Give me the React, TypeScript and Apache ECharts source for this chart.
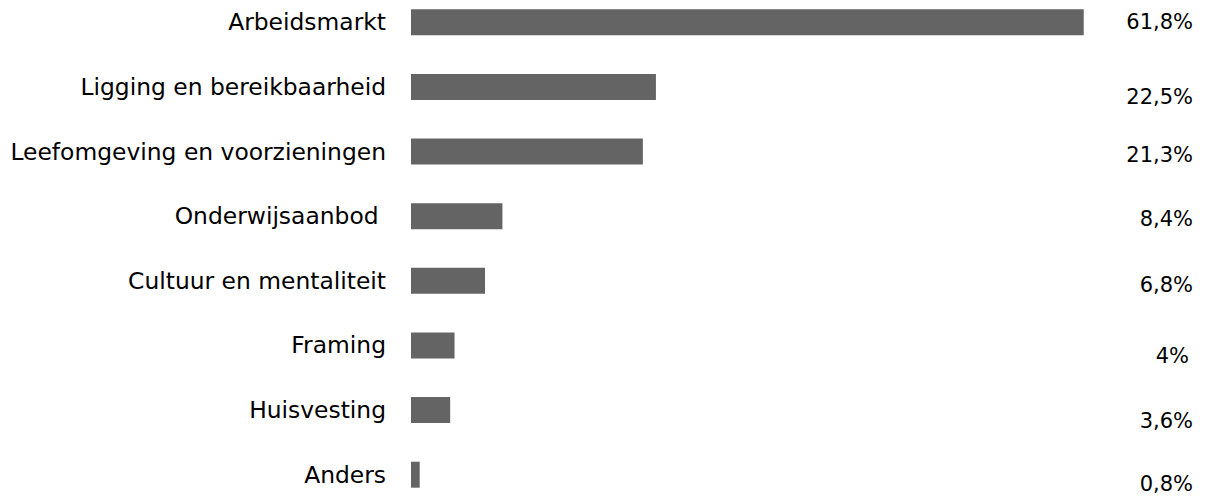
import React, { useEffect, useRef } from "react";
import * as echarts from "echarts";

const categories = [
  "Arbeidsmarkt",
  "Ligging en bereikbaarheid",
  "Leefomgeving en voorzieningen",
  "Onderwijsaanbod ",
  "Cultuur en mentaliteit",
  "Framing",
  "Huisvesting",
  "Anders",
];
const values = [61.8, 22.5, 21.3, 8.4, 6.8, 4, 3.6, 0.8];

// style: per-label nudges [dx, dy] of the value texts, as in the reference
const labelNudges = [
  [0, 0],
  [0, 10],
  [0, 3],
  [0, 3],
  [0, 4],
  [-4, 11],
  [0, 11],
  [0, 9],
];

const fmt = (v: number) => String(v).replace(".", ",") + "%";

export default function App() {
  const ref = useRef<HTMLDivElement>(null);
  useEffect(() => {
    if (!ref.current) return;
    const chart = echarts.init(ref.current, null, { renderer: "svg" });
    chart.setOption({
      animation: false,
      backgroundColor: "#ffffff",
      grid: {
        left: 411,
        top: -10,
        width: 762,
        height: 517,
        containLabel: false,
        outerBoundsMode: "none",
      },
      xAxis: { type: "value", min: 0, max: 70, show: false },
      yAxis: {
        type: "category",
        data: categories,
        inverse: true,
        axisLine: { show: false },
        axisTick: { show: false },
        splitLine: { show: false },
        axisLabel: {
          margin: 25,
          color: "#000",
          fontSize: 23.4,
          fontFamily: "DejaVu Sans",
        },
      },
      series: [
        {
          type: "bar",
          data: values,
          barWidth: 26,
          itemStyle: { color: "#646464" },
        },
        {
          type: "custom",
          clip: false,
          data: values.map((v, i) => [v, i]),
          renderItem: (params: any, api: any) => {
            const i = params.dataIndex;
            const pt = api.coord([0, i]);
            const n = labelNudges[i];
            return {
              type: "text",
              x: 1193 + n[0],
              y: pt[1] + n[1],
              style: {
                text: fmt(values[i]),
                fill: "#000",
                font: '21px "DejaVu Sans"',
                align: "right",
                verticalAlign: "middle",
              },
            };
          },
        },
      ],
    });
    return () => chart.dispose();
  }, []);
  return (
    <div
      ref={ref}
      style={{ position: "fixed", left: 0, top: 0, width: 1207, height: 499, background: "#fff" }}
    />
  );
}
